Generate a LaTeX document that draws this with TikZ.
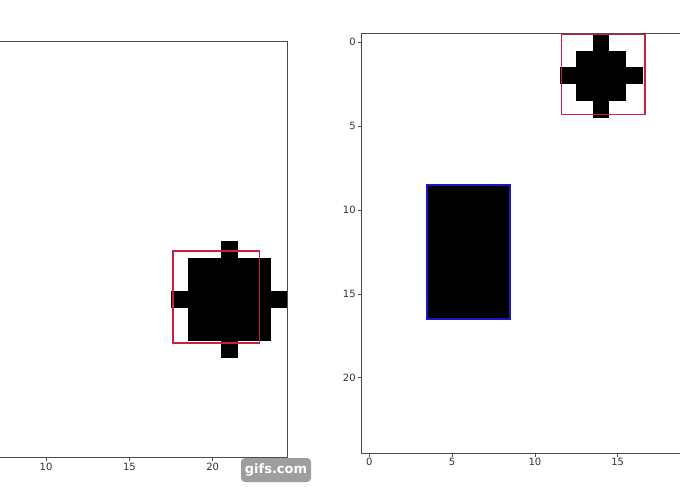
\documentclass[tikz,border=0pt]{standalone}
\usepackage{fontspec}
\setmainfont{DejaVu Sans}
\definecolor{boxred}{RGB}{205,30,65}
\definecolor{boxblue}{RGB}{30,20,200}
\newcommand{\pixblock}[4]{
	\fill[black] ({#1-0.5},{#2-0.5}) rectangle ({#3+0.5},{#4+0.5});
}

\begin{document}
\begin{tikzpicture}[x=1pt,y=-1pt,
	spine/.style={draw=black!70, line width=0.9pt},
	tickmark/.style={draw=black!70, line width=0.7pt},
	ticklabel/.style={font=\fontsize{10}{12}\selectfont, text=black!80, inner sep=1pt}]
	\useasboundingbox (0,0) rectangle (680,500);
	\clip (0,0) rectangle (680,500);
	\fill[white] (0,0) rectangle (680,500);

	% left frame, columns 0..24 and rows 0..24
	\begin{scope}[shift={(-120.67pt,-49.33pt)}, x=16.67pt, y=-16.67pt]
	\coordinate (Lnw) at (-0.5,-0.5);
	\coordinate (Lne) at (24.5,-0.5);
	\coordinate (Lse) at (24.5,24.5);
	\coordinate (Lsw) at (-0.5,24.5);

	\pixblock{21}{12}{21}{12}
	\pixblock{19}{13}{23}{17}
	\pixblock{18}{15}{18}{15}
	\pixblock{24}{15}{24}{15}
	\pixblock{21}{18}{21}{18}

	\draw[boxred, line width=1.8pt] (17.6,12.1) rectangle (22.8,17.6);

	\draw[spine] (Lnw) -- (Lne) -- (Lse) -- (Lsw) -- cycle;
	\foreach \t in {10,15,20} {
		\draw[tickmark] (\t,24.5) -- ++(0,0.21);
		\node[ticklabel, anchor=north] (lx\t) at (\t,24.75) {\t};
	}
	\end{scope}

	% right frame
	\begin{scope}[shift={(369.3pt,-42.3pt)}, x=16.56pt, y=-16.77pt]
	\coordinate (Rnw) at (-0.5,-0.5);
	\coordinate (Rne) at (24.5,-0.5);
	\coordinate (Rse) at (24.5,24.5);
	\coordinate (Rsw) at (-0.5,24.5);

	\pixblock{14}{0}{14}{0}
	\pixblock{13}{1}{15}{1}
	\pixblock{12}{2}{16}{2}
	\pixblock{13}{3}{15}{3}
	\pixblock{14}{4}{14}{4}
	\pixblock{4}{9}{8}{16}

	\draw[boxred, line width=1.6pt] (11.6,-0.5) rectangle (16.65,4.3);
	\draw[boxblue, line width=1.6pt] (3.5,8.5) rectangle (8.5,16.5);

	\draw[spine] (Rnw) -- (Rne) -- (Rse) -- (Rsw) -- cycle;
	\foreach \t in {0,5,10,15} {
		\draw[tickmark] (\t,24.5) -- ++(0,0.21);
		\node[ticklabel, anchor=north] (rx\t) at (\t,24.75) {\t};
	}
	\foreach \t in {0,5,...,20} {
		\draw[tickmark] (-0.5,\t) -- ++(-0.21,0);
		\node[ticklabel, anchor=east] (ry\t) at (-0.75,\t) {\t};
	}
	\end{scope}

	\node[fill=black!38, rounded corners=4pt, text=white, font=\bfseries\fontsize{13}{13}\selectfont,
		minimum width=70pt, minimum height=24pt, inner sep=0pt] (badge) at (276,470) {gifs.com};
\end{tikzpicture}
\end{document}
